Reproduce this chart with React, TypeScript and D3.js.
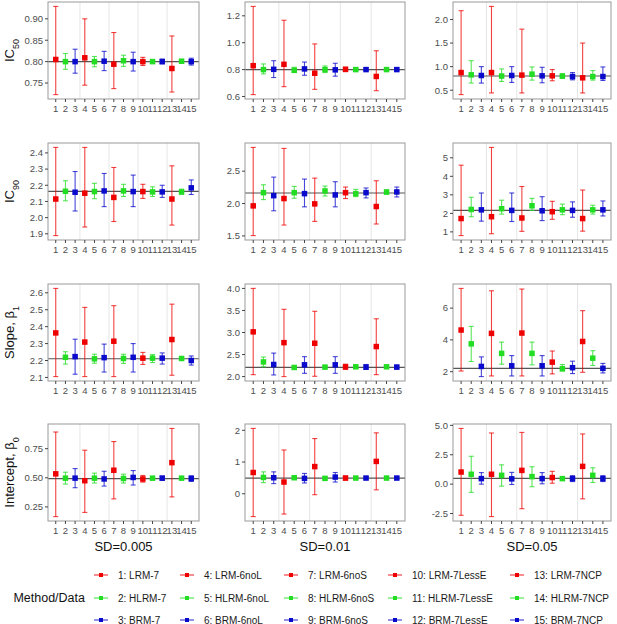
import * as d3 from "d3"

// method labels, in plotting order 1..15
const methods = [
  "1: LRM-7", "2: HLRM-7", "3: BRM-7",
  "4: LRM-6noL", "5: HLRM-6noL", "6: BRM-6noL",
  "7: LRM-6noS", "8: HLRM-6noS", "9: BRM-6noS",
  "10: LRM-7LessE", "11: HLRM-7LessE", "12: BRM-7LessE",
  "13: LRM-7NCP", "14: HLRM-7NCP", "15: BRM-7NCP",
]
const methodColors = ["#ee0000", "#22dd22", "#0a0acc"]

const sdLabels = ["SD=0.005", "SD=0.01", "SD=0.05"]
const trueValues = [0.8, 2.162, 2.21, 0.493]

// [estimate, lower, upper] for methods 1..15
const ic50Sd005 = [
  [0.805, 0.723, 0.929], [0.8, 0.782, 0.819], [0.8, 0.773, 0.829],
  [0.809, 0.745, 0.9], [0.8, 0.788, 0.812], [0.801, 0.779, 0.824],
  [0.794, 0.737, 0.868], [0.802, 0.789, 0.815], [0.8, 0.778, 0.822],
  [0.8, 0.791, 0.81], [0.8, 0.796, 0.805], [0.8, 0.795, 0.806],
  [0.784, 0.729, 0.86], [0.801, 0.796, 0.805], [0.8, 0.792, 0.808],
]
const ic50Sd01 = [
  [0.829, 0.614, 1.27], [0.8, 0.768, 0.842], [0.802, 0.741, 0.866],
  [0.839, 0.673, 1.167], [0.795, 0.778, 0.817], [0.805, 0.758, 0.856],
  [0.773, 0.653, 0.991], [0.8, 0.778, 0.827], [0.798, 0.751, 0.847],
  [0.802, 0.785, 0.817], [0.8, 0.793, 0.81], [0.8, 0.793, 0.812],
  [0.749, 0.643, 0.94], [0.8, 0.793, 0.81], [0.8, 0.793, 0.812],
]
const ic50Sd05 = [
  [0.874, 0.407, 2.186], [0.826, 0.651, 1.126], [0.812, 0.651, 1.0],
  [0.874, 0.442, 2.277], [0.8, 0.686, 0.951], [0.812, 0.665, 1.0],
  [0.82, 0.442, 1.795], [0.84, 0.714, 0.993], [0.805, 0.658, 0.986],
  [0.805, 0.7, 0.937], [0.8, 0.75, 0.847], [0.79, 0.72, 0.874],
  [0.763, 0.442, 1.5], [0.79, 0.714, 0.916], [0.79, 0.707, 0.993],
]
const ic90Sd005 = [
  [2.115, 1.889, 2.434], [2.163, 2.104, 2.228], [2.157, 2.041, 2.285],
  [2.151, 1.942, 2.434], [2.161, 2.117, 2.212], [2.165, 2.068, 2.273],
  [2.125, 1.976, 2.31], [2.165, 2.131, 2.206], [2.161, 2.068, 2.263],
  [2.161, 2.119, 2.206], [2.159, 2.131, 2.19], [2.159, 2.125, 2.2],
  [2.115, 1.954, 2.32], [2.159, 2.145, 2.176], [2.184, 2.143, 2.233],
]
const ic90Sd01 = [
  [1.964, 1.505, 2.867], [2.168, 2.061, 2.29], [2.122, 1.888, 2.408],
  [2.077, 1.668, 2.852], [2.168, 2.082, 2.265], [2.153, 1.949, 2.378],
  [1.995, 1.724, 2.393], [2.194, 2.117, 2.27], [2.133, 1.949, 2.337],
  [2.168, 2.077, 2.255], [2.153, 2.107, 2.219], [2.168, 2.087, 2.24],
  [1.954, 1.684, 2.352], [2.179, 2.143, 2.204], [2.179, 2.102, 2.255],
]
const ic90Sd05 = [
  [1.72, 0.8, 4.6], [2.21, 1.82, 2.87], [2.19, 1.58, 3.1],
  [1.82, 0.9, 5.56], [2.25, 1.96, 2.71], [2.16, 1.56, 3.1],
  [1.75, 1.03, 3.45], [2.41, 2.16, 2.81], [2.14, 1.61, 2.9],
  [2.09, 1.68, 2.65], [2.19, 1.93, 2.5], [2.16, 1.79, 2.62],
  [1.72, 1.04, 3.26], [2.19, 1.96, 2.44], [2.19, 1.86, 2.67],
]
const slopeSd005 = [
  [2.363, 2.105, 2.626], [2.219, 2.179, 2.252], [2.223, 2.119, 2.326],
  [2.309, 2.105, 2.514], [2.21, 2.184, 2.237], [2.217, 2.132, 2.297],
  [2.314, 2.105, 2.524], [2.212, 2.183, 2.237], [2.219, 2.132, 2.3],
  [2.214, 2.177, 2.248], [2.214, 2.188, 2.235], [2.214, 2.179, 2.245],
  [2.324, 2.113, 2.533], [2.212, 2.204, 2.217], [2.2, 2.173, 2.227],
]
const slopeSd01 = [
  [3.015, 2.044, 4.0], [2.333, 2.222, 2.444], [2.274, 2.037, 2.533],
  [2.77, 2.0, 3.526], [2.207, 2.17, 2.244], [2.267, 2.074, 2.452],
  [2.756, 2.007, 3.481], [2.215, 2.178, 2.252], [2.267, 2.074, 2.452],
  [2.222, 2.163, 2.281], [2.222, 2.185, 2.252], [2.215, 2.163, 2.274],
  [2.681, 2.044, 3.311], [2.222, 2.193, 2.244], [2.215, 2.178, 2.259],
]
const slopeSd05 = [
  [4.62, 2.04, 7.24], [3.75, 2.64, 4.85], [2.33, 1.69, 2.93],
  [4.41, 1.73, 7.09], [3.15, 2.47, 3.86], [2.37, 1.73, 3.01],
  [4.43, 1.73, 7.2], [3.15, 2.43, 3.86], [2.37, 1.73, 3.01],
  [2.6, 1.86, 3.3], [2.19, 2.04, 2.45], [2.25, 1.88, 2.66],
  [3.9, 1.96, 5.84], [2.85, 2.39, 3.32], [2.21, 1.92, 2.52],
]
const interceptSd005 = [
  [0.534, 0.167, 0.893], [0.497, 0.446, 0.548], [0.497, 0.415, 0.579],
  [0.475, 0.203, 0.737], [0.497, 0.455, 0.54], [0.49, 0.429, 0.556],
  [0.565, 0.319, 0.811], [0.494, 0.455, 0.531], [0.503, 0.438, 0.562],
  [0.49, 0.463, 0.52], [0.497, 0.483, 0.511], [0.497, 0.48, 0.514],
  [0.63, 0.336, 0.924], [0.497, 0.486, 0.508], [0.494, 0.469, 0.517],
]
const interceptSd01 = [
  [0.67, -0.72, 2.06], [0.515, 0.35, 0.69], [0.505, 0.32, 0.69],
  [0.37, -0.64, 1.38], [0.505, 0.454, 0.557], [0.485, 0.34, 0.64],
  [0.856, -0.03, 1.74], [0.485, 0.433, 0.536], [0.526, 0.37, 0.67],
  [0.495, 0.433, 0.557], [0.495, 0.454, 0.536], [0.495, 0.454, 0.536],
  [1.02, 0.124, 1.92], [0.495, 0.464, 0.526], [0.495, 0.454, 0.536],
]
const interceptSd05 = [
  [1.03, -2.65, 4.74], [0.84, -0.7, 2.37], [0.47, 0.0, 0.98],
  [0.84, -2.76, 4.35], [0.75, -0.17, 1.64], [0.45, -0.03, 1.0],
  [1.17, -2.09, 4.4], [0.64, -0.22, 1.48], [0.47, 0.03, 0.98],
  [0.56, 0.08, 1.09], [0.47, 0.33, 0.61], [0.47, 0.22, 0.72],
  [1.51, -1.25, 4.27], [0.75, 0.14, 1.39], [0.47, 0.22, 0.72],
]

const panelData = [
  [ic50Sd005, ic50Sd01, ic50Sd05],
  [ic90Sd005, ic90Sd01, ic90Sd05],
  [slopeSd005, slopeSd01, slopeSd05],
  [interceptSd005, interceptSd01, interceptSd05],
]

// y tick labels per panel
const yTickLabels = [
  [["0.75", "0.80", "0.85", "0.90"], ["0.6", "0.8", "1.0", "1.2"], ["0.5", "1.0", "1.5", "2.0"]],
  [["1.9", "2.0", "2.1", "2.2", "2.3", "2.4"], ["1.5", "2.0", "2.5"], ["1", "2", "3", "4", "5"]],
  [["2.1", "2.2", "2.3", "2.4", "2.5", "2.6"], ["2.0", "2.5", "3.0", "3.5", "4.0"], ["2", "4", "6"]],
  [["0.25", "0.50", "0.75"], ["0", "1", "2"], ["-2.5", "0.0", "2.5", "5.0"]],
]
const groupBreaks = [3.5, 6.5, 9.5, 12.5]

// layout
const W = 617
const H = 624
const colX = [[48, 199], [245, 405], [453, 611]]
const rowTop = [2, 143, 284, 424]
const panelH = 97
const font = "Liberation Sans, Arial, Helvetica, sans-serif"

function YTitle({ row, cy }: { row: number; cy: number }) {
  const sub = { fontSize: 9, baselineShift: "sub" } as any
  const parts =
    row === 0 ? ["IC", "50"] : row === 1 ? ["IC", "90"] : row === 2 ? ["Slope, β", "1"] : ["Intercept, β", "0"]
  return (
    <text
      transform={`translate(14,${cy}) rotate(-90)`}
      textAnchor="middle"
      fontSize={13}
      fill="#111"
    >
      {parts[0]}
      <tspan style={sub}>{parts[1]}</tspan>
    </text>
  )
}

function Panel({ row, col }: { row: number; col: number }) {
  const data = panelData[row][col]
  const [x0, x1] = colX[col]
  const y0 = rowTop[row]
  const y1 = y0 + panelH
  const x = d3.scaleLinear().domain([0.2, 15.8]).range([x0, x1])
  const lo = d3.min(data, (d) => d[1]) as number
  const hi = d3.max(data, (d) => d[2]) as number
  const pad = (hi - lo) * 0.05
  const y = d3.scaleLinear().domain([lo - pad, hi + pad]).range([y1, y0])
  const ticks = yTickLabels[row][col]
  const idx = d3.range(1, 16)

  return (
    <g>
      <rect x={x0} y={y0} width={x1 - x0} height={panelH} fill="#fff" />
      {groupBreaks.map((b) => (
        <line key={b} x1={x(b)} x2={x(b)} y1={y0} y2={y1} stroke="#e6e6e6" strokeWidth={1} />
      ))}
      <line x1={x0} x2={x1} y1={y(trueValues[row])} y2={y(trueValues[row])} stroke="#555" strokeWidth={1.1} />
      {data.map((d, i) => {
        const cx = x(i + 1)
        const c = methodColors[i % 3]
        return (
          <g key={i}>
            <g stroke={c} strokeOpacity={0.75} strokeWidth={1.1}>
              <line x1={cx} x2={cx} y1={y(d[1])} y2={y(d[2])} />
              <line x1={cx - 2.5} x2={cx + 2.5} y1={y(d[1])} y2={y(d[1])} />
              <line x1={cx - 2.5} x2={cx + 2.5} y1={y(d[2])} y2={y(d[2])} />
            </g>
            <rect x={cx - 2.75} y={y(d[0]) - 2.75} width={5.5} height={5.5} fill={c} />
          </g>
        )
      })}
      <rect x={x0} y={y0} width={x1 - x0} height={panelH} fill="none" stroke="#999" strokeWidth={1} />
      {ticks.map((t) => {
        const v = parseFloat(t)
        return (
          <g key={t}>
            <line x1={x0 - 3} x2={x0} y1={y(v)} y2={y(v)} stroke="#444" />
            <text x={x0 - 5} y={y(v)} dy="0.35em" textAnchor="end" fontSize={9.5} fill="#4d4d4d">
              {t}
            </text>
          </g>
        )
      })}
      {idx.map((v) => (
        <g key={v}>
          <line x1={x(v)} x2={x(v)} y1={y1} y2={y1 + 3} stroke="#444" />
          <text x={x(v)} y={y1 + 13} textAnchor="middle" fontSize={9.5} fill="#4d4d4d">
            {v}
          </text>
        </g>
      ))}
    </g>
  )
}

export default function App() {
  const legendKeyX = [94, 180, 284, 388, 510]
  const legendRowY = [575, 598, 620]
  return (
    <svg
      width={W}
      height={H}
      style={{ position: "absolute", left: 0, top: 0, background: "#fff" }}
      fontFamily={font}
    >
      {panelData.map((r, ri) =>
        r.map((_, ci) => <Panel key={`${ri}-${ci}`} row={ri} col={ci} />)
      )}
      {rowTop.map((t, ri) => (
        <YTitle key={ri} row={ri} cy={t + panelH / 2} />
      ))}
      {sdLabels.map((s, ci) => (
        <text
          key={s}
          x={(colX[ci][0] + colX[ci][1]) / 2}
          y={551}
          textAnchor="middle"
          fontSize={13}
          fill="#111"
        >
          {s}
        </text>
      ))}
      <text x={85} y={legendRowY[1]} dy="0.35em" textAnchor="end" fontSize={12.5} fill="#111">
        Method/Data
      </text>
      {methods.map((m, i) => {
        const kx = legendKeyX[Math.floor(i / 3)]
        const ky = legendRowY[i % 3]
        const c = methodColors[i % 3]
        return (
          <g key={m}>
            <line x1={kx} x2={kx + 14} y1={ky} y2={ky} stroke={c} strokeOpacity={0.75} strokeWidth={1.2} />
            <rect x={kx + 5} y={ky - 2} width={4} height={4} fill={c} />
            <text x={kx + 24} y={ky} dy="0.35em" fontSize={10} fill="#1a1a1a">
              {m}
            </text>
          </g>
        )
      })}
    </svg>
  )
}
